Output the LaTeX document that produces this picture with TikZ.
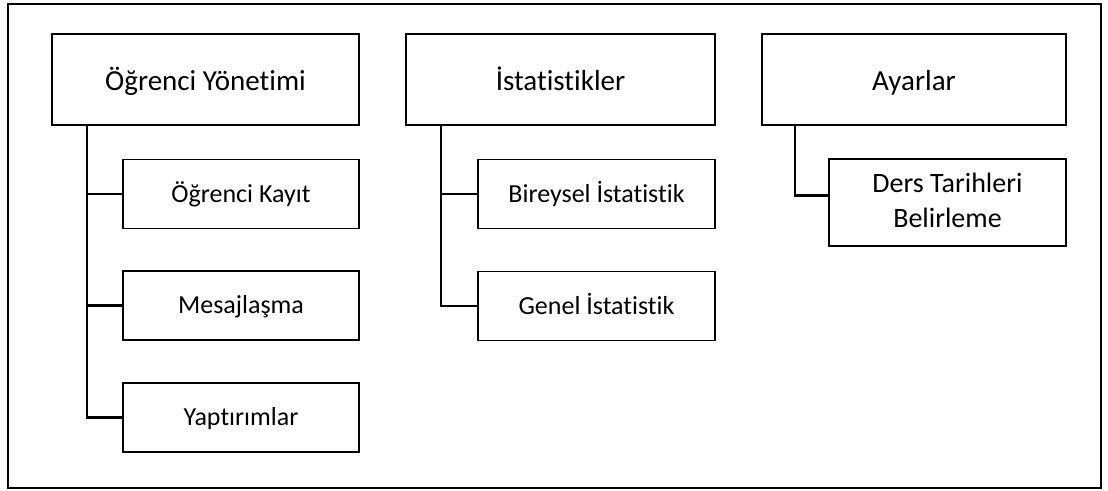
\documentclass[tikz,border=0pt]{standalone}
\usepackage{fontspec}
\setmainfont[Ligatures=NoCommon]{Carlito}
\begin{document}
\begin{tikzpicture}[x=1pt,y=-1pt,
  topbox/.style={draw, line width=1.8pt, rectangle, inner sep=0pt, minimum width=307pt, minimum height=91pt, text height=21pt, text depth=0pt, font=\fontsize{29}{35}\selectfont},
  subbox/.style={draw, line width=1.8pt, rectangle, inner sep=0pt, minimum width=236pt, minimum height=69pt, text height=16pt, text depth=0pt, font=\fontsize{26}{32}\selectfont},
  conn/.style={line width=2.6pt}]
\useasboundingbox (0,0) rectangle (1108,490);
\draw[line width=2.8pt] (8,4) rectangle (1101,488);
\node[topbox] (ogr) at (205.5,79.5) {Öğrenci Yönetimi};
\node[topbox, minimum width=309pt] (ist) at (560.5,79.5) {İstatistikler};
\node[topbox, minimum width=304pt] (aya) at (914,79.5) {Ayarlar};
\node[subbox] (kay) at (241,194) {Öğrenci Kayıt};
\node[subbox] (mes) at (241,305.5) {Mesajlaşma};
\node[subbox] (yap) at (241,417.5) {Yaptırımlar};
\node[subbox, minimum width=237pt] (bir) at (596.5,194) {Bireysel İstatistik};
\node[subbox, minimum width=237pt] (gen) at (596.5,306) {Genel İstatistik};
\node[subbox, minimum width=237pt, minimum height=87pt, align=center, text height=49pt, text depth=0pt, font=\fontsize{28}{35}\selectfont] (der) at (947.5,202.5) {Ders Tarihleri\\Belirleme};
\draw[conn] ([xshift=36pt]ogr.south west) |- (kay.west);
\draw[conn] ([xshift=36pt]ogr.south west) |- (mes.west);
\draw[conn] ([xshift=36pt]ogr.south west) |- (yap.west);
\draw[conn] ([xshift=36pt]ist.south west) |- (bir.west);
\draw[conn] ([xshift=36pt]ist.south west) |- (gen.west);
\draw[conn] ([xshift=34pt]aya.south west) |- ([yshift=7pt]der.west);
\end{tikzpicture}
\end{document}
